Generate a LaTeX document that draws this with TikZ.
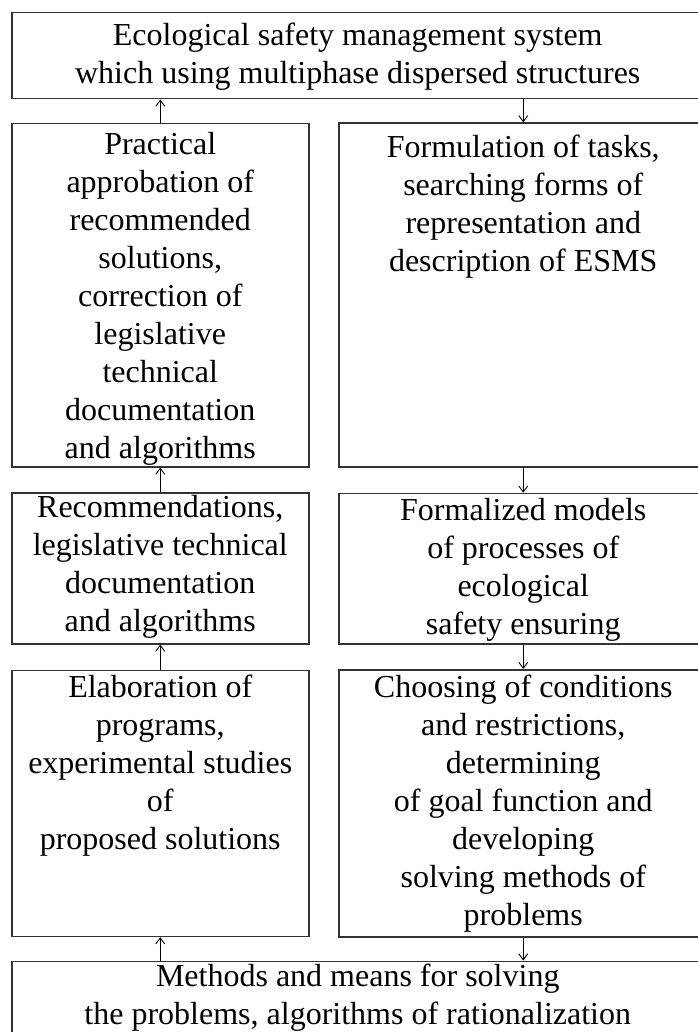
\documentclass[tikz,border=0pt]{standalone}
\usepackage{fontspec}
\setmainfont{Liberation Serif}
\usetikzlibrary{arrows.meta, positioning}
\definecolor{esmsLine}{HTML}{333333}

\begin{document}
\begin{tikzpicture}[
  x=1pt, y=-1pt,
  box/.style={draw=esmsLine, line width=1.5pt, rectangle, inner sep=0pt, anchor=north west},
  txt/.style={anchor=north, inner sep=0pt, align=center, font=\fontsize{32}{38}\selectfont},
  flow/.style={-{Straight Barb[length=6pt,width=9pt]}, line width=0.9pt, black}]
  \useasboundingbox (0,0) rectangle (697,1032);
  % Top and bottom boxes
  \node[box, minimum width=692pt, minimum height=86pt,
    label={[txt, yshift=-6.4pt]north:{\strut Ecological safety management system\\which using multiphase dispersed structures}}]
    (esms) at (11,12) {};
  \node[box, minimum width=692pt, minimum height=90pt,
    label={[txt, yshift=1.2pt]north:{\strut Methods and means for solving\\the problems, algorithms of rationalization}}]
    (methods) at (11,960.5) {};
  % Left column
  \node[box, minimum width=297pt, minimum height=343.3pt,
    label={[txt, yshift=-4.7pt]north:{\strut Practical\\approbation of\\recommended\\solutions,\\correction of\\legislative\\technical\\documentation\\and algorithms}}]
    (approb) at (11,122.7) {};
  \node[box, minimum width=297pt, minimum height=150.7pt,
    label={[txt, yshift=1.9pt]north:{\strut Recommendations,\\legislative technical\\documentation\\and algorithms}}]
    (recomm) at (11,492.3) {};
  \node[box, minimum width=297pt, minimum height=266.2pt,
    label={[txt, yshift=-0.9pt]north:{\strut Elaboration of\\programs,\\experimental studies\\of\\proposed solutions}}]
    (elab) at (11,669.5) {};
  % Right column
  \node[box, minimum width=369pt, minimum height=343.7pt,
    label={[txt, yshift=-8.1pt]north:{\strut Formulation of tasks,\\searching forms of\\representation and\\description of ESMS}}]
    (tasks) at (338,122.3) {};
  \node[box, minimum width=369pt, minimum height=150.3pt,
    label={[txt, yshift=-0.7pt]north:{\strut Formalized models\\of processes of\\ecological\\safety ensuring}}]
    (models) at (338,492.7) {};
  \node[box, minimum width=369pt, minimum height=267pt,
    label={[txt, yshift=-2.1pt]north:{\strut Choosing of conditions\\and restrictions,\\determining\\of goal function and\\developing\\solving methods of\\problems}}]
    (choose) at (338,669) {};
  % Arrows, left column upwards
  \draw[flow] (approb.north) -- (approb.north |- esms.south);
  \draw[flow] (recomm.north) -- (approb.south);
  \draw[flow] (elab.north) -- (recomm.south);
  \draw[flow] (elab.south |- methods.north) -- (elab.south);
  % Arrows, right column downwards
  \draw[flow] (tasks.north |- esms.south) -- (tasks.north);
  \draw[flow] (tasks.south) -- (models.north);
  \draw[flow] (models.south) -- (choose.north);
  \draw[flow] (choose.south) -- (choose.south |- methods.north);
\end{tikzpicture}
\end{document}
